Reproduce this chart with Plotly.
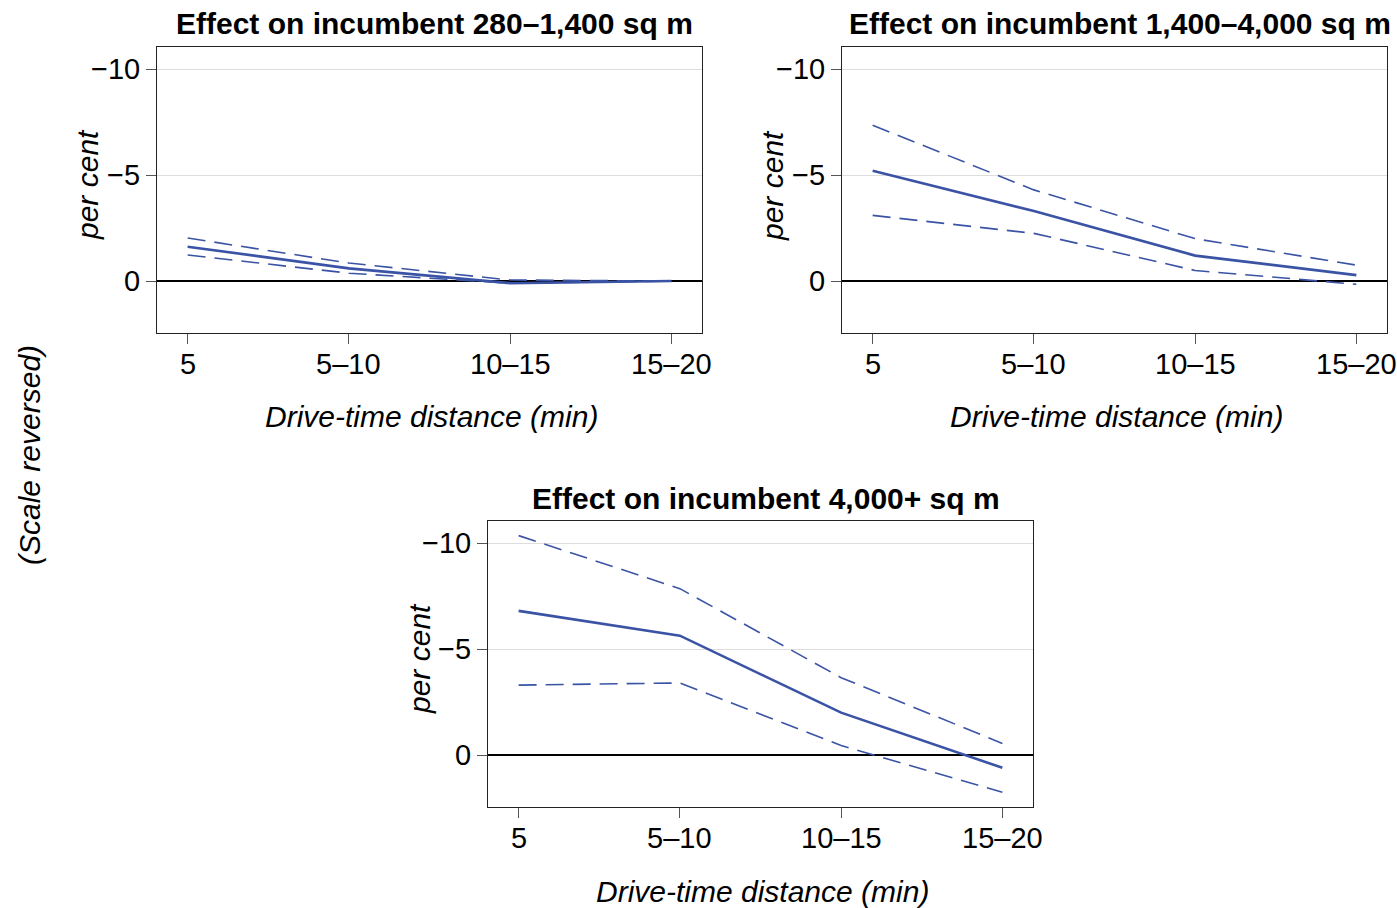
import plotly.graph_objects as go

categories = ["5", "5–10", "10–15", "15–20"]

titles = ["Effect on incumbent 280–1,400 sq m",
          "Effect on incumbent 1,400–4,000 sq m",
          "Effect on incumbent 4,000+ sq m"]

p1_est = [-1.62, -0.6, 0.1, 0.0]
p1_hi = [-2.03, -0.85, -0.05, 0.0]
p1_lo = [-1.23, -0.37, 0.1, 0.0]

p2_est = [-5.2, -3.3, -1.2, -0.28]
p2_hi = [-7.35, -4.3, -2.0, -0.75]
p2_lo = [-3.1, -2.25, -0.5, 0.15]

p3_est = [-6.8, -5.63, -2.0, 0.6]
p3_hi = [-10.35, -7.85, -3.65, -0.55]
p3_lo = [-3.3, -3.4, -0.45, 1.75]

y_ticks = [-10, -5, 0]
y_ticktext = ["−10", "−5", "0"]

W, H = 1397, 908
FONT = "Liberation Sans"
COL = "#3a53a4"

# plot area pixel boxes (x0, x1, y0, y1)
boxes = [(157, 702, 47, 333), (842, 1387, 47, 333), (488, 1033, 521, 807)]
panels = [(p1_est, p1_hi, p1_lo), (p2_est, p2_hi, p2_lo), (p3_est, p3_hi, p3_lo)]

fig = go.Figure()
annotations = []
xpos = list(range(len(categories)))


def ann(text, xpx, ypx, angle=0, size=30):
    return dict(text=text, x=xpx / W, y=1 - ypx / H, xref="paper", yref="paper",
                xanchor="center", yanchor="middle", showarrow=False, textangle=angle,
                font=dict(family=FONT, size=size, color="black"))


for i, ((est, hi, lo), box) in enumerate(zip(panels, boxes)):
    n = "" if i == 0 else str(i + 1)
    xa, ya = "x" + n, "y" + n
    for series, dash, w in [(est, "solid", 2.6), (hi, "18px,9px", 1.6), (lo, "18px,9px", 1.6)]:
        fig.add_trace(go.Scatter(x=xpos, y=series, mode="lines", xaxis=xa, yaxis=ya,
                                 line=dict(color=COL, width=w, dash=dash),
                                 showlegend=False, hoverinfo="skip"))
    x0, x1, y0, y1 = box
    axcommon = dict(showline=True, linecolor="#222222", linewidth=1, mirror=True,
                    ticks="outside", ticklen=10, tickcolor="#555555", tickwidth=1,
                    tickfont=dict(family=FONT, size=29, color="black"))
    fig.layout["xaxis" + n] = dict(domain=[x0 / W, x1 / W], anchor=ya,
                                   range=[-0.19, 3.19], tickvals=xpos, ticktext=categories,
                                   showticklabels=False,
                                   showgrid=False, zeroline=False, **axcommon)
    fig.layout["yaxis" + n] = dict(domain=[1 - y1 / H, 1 - y0 / H], anchor=xa,
                                   range=[2.45, -11.04], tickvals=y_ticks, ticktext=y_ticktext,
                                   showgrid=True, gridcolor="#dddddd", gridwidth=1.2,
                                   zeroline=True, zerolinecolor="black", zerolinewidth=1.5,
                                   **axcommon)
    # x tick labels placed on the category positions of the axis
    for xp, lab in zip(xpos, categories):
        annotations.append(dict(text=lab, x=xp, xref=xa, y=1 - (y1 + 31) / H, yref="paper",
                                xanchor="center", yanchor="middle", showarrow=False,
                                font=dict(family=FONT, size=29, color="black")))
    cx = (x0 + x1) / 2
    annotations.append(ann("<b>" + titles[i] + "</b>", cx + 5, y0 - 23))
    annotations.append(ann("<i>Drive-time distance (min)</i>", cx + 2, y1 + 84))
    annotations.append(ann("<i>per cent</i>", x0 - 69, (y0 + y1) / 2 - 5, -90))

annotations.append(ann("<i>(Scale reversed)</i>", 30, 455, -90))

fig.update_layout(width=W, height=H, margin=dict(l=0, r=0, t=0, b=0),
                  plot_bgcolor="white", paper_bgcolor="white",
                  annotations=annotations, font=dict(family=FONT))

fig.write_html("out.html", config={"displayModeBar": False, "responsive": False},
               post_script="document.body.style.margin='0px';document.body.style.overflow='hidden';")
